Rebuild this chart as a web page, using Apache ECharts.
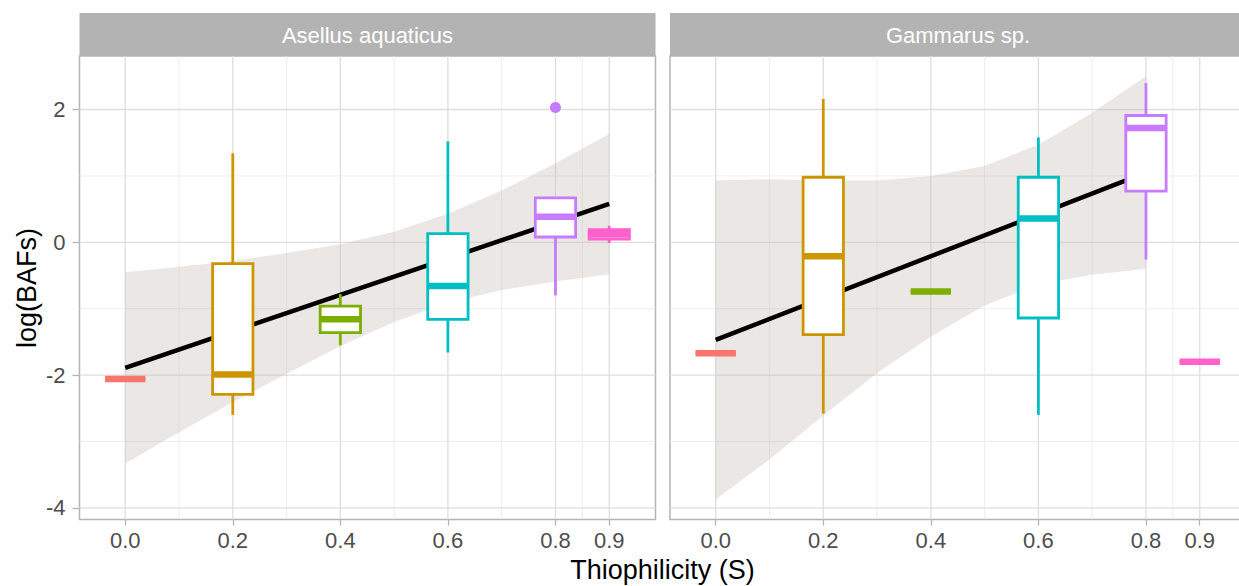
<!DOCTYPE html>
<html><head><meta charset="utf-8">
<script src="https://cdn.jsdelivr.net/npm/echarts@6/dist/echarts.min.js"></script>
<style>html,body{margin:0;padding:0;background:#fff}#c{width:1239px;height:586px}</style>
</head><body><div id="c"></div>
<script>
// ---------------- data ----------------
const panels = ['Asellus aquaticus', 'Gammarus sp.'];
const groups = [0.0, 0.2, 0.4, 0.6, 0.8, 0.9];
const groupColors = ['#F8766D', '#CD9600', '#7CAE00', '#00BFC4', '#C77CFF', '#FF61CC'];

// box stats per group: [min, q1, median, q3, max]
const aselBoxes = [
  [-2.06, -2.06, -2.06, -2.06, -2.06],
  [-2.60, -2.29, -1.99, -0.32, 1.34],
  [-1.55, -1.36, -1.16, -0.96, -0.78],
  [-1.66, -1.16, -0.66, 0.13, 1.52],
  [-0.80, 0.08, 0.385, 0.67, 0.67],
  [-0.01, 0.05, 0.12, 0.19, 0.25]
];
const gammBoxes = [
  [-1.67, -1.67, -1.67, -1.67, -1.67],
  [-2.58, -1.39, -0.21, 0.98, 2.16],
  [-0.74, -0.74, -0.74, -0.74, -0.74],
  [-2.60, -1.14, 0.36, 0.98, 1.58],
  [-0.26, 0.77, 1.72, 1.91, 2.40],
  [-1.80, -1.80, -1.80, -1.80, -1.80]
];
const aselOutliers = [[0.8, 2.03]];
const gammOutliers = [];

// linear fit end points
const aselFit = [[0, -1.89], [0.9, 0.58]];
const gammFit = [[0, -1.47], [0.8, 1.05]];

// confidence band
const aselBandX = [0, 0.1, 0.2, 0.3, 0.4, 0.5, 0.6, 0.7, 0.8, 0.9];
const aselBandUpper = [-0.45, -0.37, -0.28, -0.16, -0.03, 0.16, 0.43, 0.78, 1.19, 1.63];
const aselBandLower = [-3.33, -2.86, -2.41, -1.98, -1.56, -1.20, -0.91, -0.72, -0.59, -0.48];
const gammBandX = [0, 0.1, 0.2, 0.3, 0.4, 0.5, 0.6, 0.7, 0.8];
const gammBandUpper = [0.93, 0.95, 0.93, 0.93, 1.00, 1.15, 1.47, 1.95, 2.50];
const gammBandLower = [-3.87, -3.27, -2.61, -1.97, -1.42, -0.95, -0.63, -0.49, -0.40];

// axes
const xTicks = [0, 0.2, 0.4, 0.6, 0.8, 0.9];
const xTickLabels = ['0.0', '0.2', '0.4', '0.6', '0.8', '0.9'];
const xMinor = [0.1, 0.3, 0.5, 0.7, 0.85];
const yTicks = [-4, -2, 0, 2];
const yTickLabels = ['-4', '-2', '0', '2'];
const yMinor = [-3, -1, 1];
const xTitle = 'Thiophilicity (S)';
const yTitle = 'log(BAFs)';

// ---------------- layout / style ----------------
const FONT = '"Liberation Sans", Arial, Helvetica, sans-serif';
const X_MIN = -0.085, X_MAX = 0.986, Y_MIN = -4.175, Y_MAX = 2.806;
const PANEL_W = 576, PANEL_TOP = 56, PANEL_H = 463.5;
const PANEL_LEFT = [79.5, 670];
const BOX_W = 0.075;

const chart = echarts.init(document.getElementById('c'), null, {renderer: 'svg'});

function gridLineData() {
  const d = [];
  xTicks.forEach(v => d.push([v, 0, 1]));
  xMinor.forEach(v => d.push([v, 0, 0]));
  yTicks.forEach(v => d.push([v, 1, 1]));
  yMinor.forEach(v => d.push([v, 1, 0]));
  return d;
}

function gridSeries(i) {
  return {
    type: 'custom', xAxisIndex: i, yAxisIndex: i, z: 1, silent: true,
    data: gridLineData(),
    encode: {x: 0, y: 1},
    clip: true,
    renderItem: function (params, api) {
      const cs = params.coordSys;
      const v = api.value(0), dir = api.value(1), major = api.value(2);
      let shape;
      if (dir === 0) {
        const x = api.coord([v, 0])[0];
        shape = {x1: x, y1: cs.y, x2: x, y2: cs.y + cs.height};
      } else {
        const y = api.coord([0, v])[1];
        shape = {x1: cs.x, y1: y, x2: cs.x + cs.width, y2: y};
      }
      return {type: 'line', shape: shape,
        style: {stroke: major ? '#DEDEDE' : '#EBEBEB', lineWidth: major ? 1.3 : 0.9}};
    }
  };
}

function bandSeries(i, xs, up, lo) {
  return {
    type: 'custom', xAxisIndex: i, yAxisIndex: i, z: 2, silent: true,
    data: [[xs[0], up[0]]],
    renderItem: function (params, api) {
      const pts = [];
      for (let k = 0; k < xs.length; k++) pts.push(api.coord([xs[k], up[k]]));
      for (let k = xs.length - 1; k >= 0; k--) pts.push(api.coord([xs[k], lo[k]]));
      return {type: 'polygon', shape: {points: pts},
        style: {fill: 'rgba(196,188,180,0.36)', stroke: null}};
    }
  };
}

function fitSeries(i, pts) {
  return {
    type: 'line', xAxisIndex: i, yAxisIndex: i, z: 3, silent: true,
    data: pts, showSymbol: false, symbol: 'none',
    lineStyle: {color: '#000', width: 4.5}
  };
}

function boxSeries(i, boxes) {
  return {
    type: 'custom', xAxisIndex: i, yAxisIndex: i, z: 4, silent: true,
    data: boxes.map((b, k) => [groups[k]].concat(b).concat([k])),
    encode: {x: 0, y: [1, 5]},
    renderItem: function (params, api) {
      const x = api.value(0);
      const color = groupColors[api.value(6)];
      const pMin = api.coord([x, api.value(1)]);
      const pQ1 = api.coord([x, api.value(2)]);
      const pMed = api.coord([x, api.value(3)]);
      const pQ3 = api.coord([x, api.value(4)]);
      const pMax = api.coord([x, api.value(5)]);
      const half = api.size([BOX_W, 0])[0] / 2;
      const cx = pMed[0];
      const lw = 2.8;
      return {type: 'group', children: [
        {type: 'line', shape: {x1: cx, y1: pMax[1], x2: cx, y2: pQ3[1]}, style: {stroke: color, lineWidth: lw}},
        {type: 'line', shape: {x1: cx, y1: pQ1[1], x2: cx, y2: pMin[1]}, style: {stroke: color, lineWidth: lw}},
        {type: 'rect', shape: {x: cx - half, y: pQ3[1], width: 2 * half, height: pQ1[1] - pQ3[1]},
          style: {fill: '#fff', stroke: color, lineWidth: lw}},
        {type: 'line', shape: {x1: cx - half, y1: pMed[1], x2: cx + half, y2: pMed[1]},
          style: {stroke: color, lineWidth: 6.5}}
      ]};
    }
  };
}

function outlierSeries(i, pts) {
  return {
    type: 'scatter', xAxisIndex: i, yAxisIndex: i, z: 5, silent: true,
    data: pts, symbol: 'circle', symbolSize: 11,
    itemStyle: {color: groupColors[4], opacity: 1}
  };
}

function xAxisCfg(i) {
  return {
    type: 'value', gridIndex: i, min: X_MIN, max: X_MAX, position: 'bottom',
    axisLine: {show: false, onZero: false}, splitLine: {show: false},
    axisTick: {show: true, customValues: xTicks, length: 6, lineStyle: {color: '#B3B3B3', width: 1.3}},
    axisLabel: {show: true, customValues: xTicks, margin: 10, color: '#4D4D4D', fontSize: 22, fontFamily: FONT,
      formatter: v => { const k = xTicks.findIndex(t => Math.abs(t - v) < 1e-9); return k >= 0 ? xTickLabels[k] : ''; }}
  };
}

function yAxisCfg(i) {
  const showLab = i === 0;
  return {
    type: 'value', gridIndex: i, min: Y_MIN, max: Y_MAX, position: 'left',
    axisLine: {show: false, onZero: false}, splitLine: {show: false},
    axisTick: {show: showLab, customValues: yTicks, length: 7, lineStyle: {color: '#B3B3B3', width: 1.3}},
    axisLabel: {show: showLab, customValues: yTicks, margin: 14, color: '#4D4D4D', fontSize: 22, fontFamily: FONT,
      formatter: v => { const k = yTicks.findIndex(t => Math.abs(t - v) < 1e-9); return k >= 0 ? yTickLabels[k] : ''; }}
  };
}

const graphics = [];
panels.forEach((name, i) => {
  graphics.push({type: 'rect', left: PANEL_LEFT[i], top: 13, shape: {x: 0, y: 0, width: PANEL_W, height: 43},
    style: {fill: '#B3B3B3'}, silent: true});
  graphics.push({type: 'text', x: PANEL_LEFT[i] + PANEL_W / 2, y: 35,
    style: {text: name, fill: '#FFFFFF', font: '22px ' + FONT, textAlign: 'center', textVerticalAlign: 'middle'}, silent: true});
});
graphics.push({type: 'text', x: 662.5, y: 570,
  style: {text: xTitle, fill: '#000', font: '27px ' + FONT, textAlign: 'center', textVerticalAlign: 'middle'}, silent: true});
graphics.push({type: 'text', x: 27, y: 288, rotation: Math.PI / 2,
  style: {text: yTitle, fill: '#000', font: '27px ' + FONT, textAlign: 'center', textVerticalAlign: 'middle'}, silent: true});

const grids = PANEL_LEFT.map(l => ({
  left: l, top: PANEL_TOP, width: PANEL_W, height: PANEL_H,
  containLabel: false, outerBoundsMode: 'none',
  show: true, backgroundColor: '#fff', borderColor: '#B3B3B3', borderWidth: 1.5
}));

chart.setOption({
  animation: false,
  backgroundColor: '#fff',
  grid: grids,
  xAxis: [xAxisCfg(0), xAxisCfg(1)],
  yAxis: [yAxisCfg(0), yAxisCfg(1)],
  graphic: graphics,
  series: [
    gridSeries(0), gridSeries(1),
    bandSeries(0, aselBandX, aselBandUpper, aselBandLower),
    bandSeries(1, gammBandX, gammBandUpper, gammBandLower),
    fitSeries(0, aselFit), fitSeries(1, gammFit),
    boxSeries(0, aselBoxes), boxSeries(1, gammBoxes),
    outlierSeries(0, aselOutliers)
  ]
});
</script>
</body></html>
